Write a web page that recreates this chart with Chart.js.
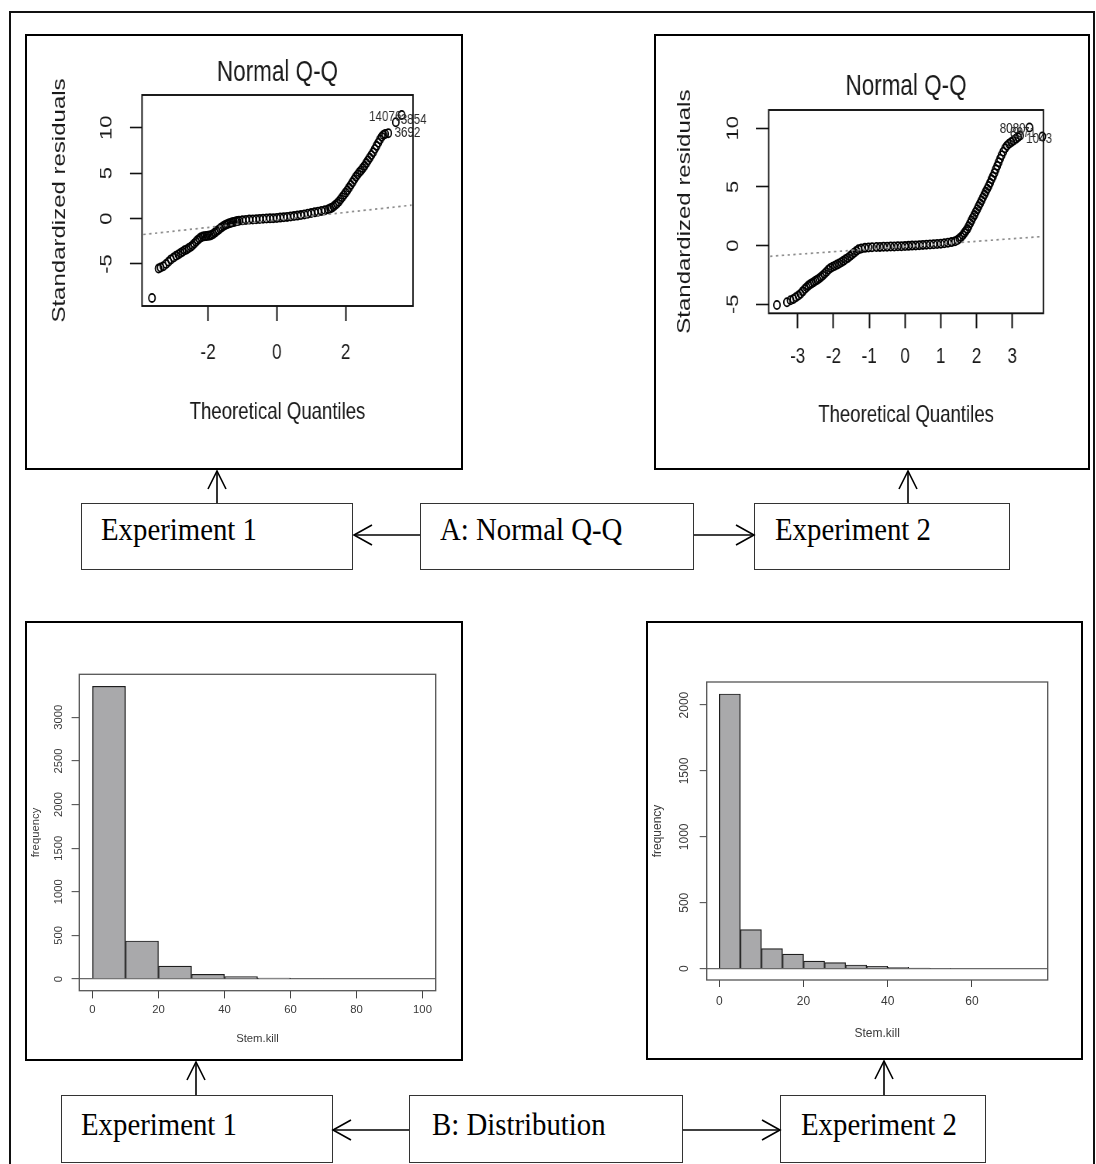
<!DOCTYPE html>
<html>
<head>
<meta charset="utf-8">
<script src="https://cdn.jsdelivr.net/npm/chart.js@4.4.1/dist/chart.umd.min.js"></script>
<style>
html,body{margin:0;padding:0;background:#fff;}
body{width:1096px;height:1164px;position:relative;overflow:hidden;}
.frame{position:absolute;left:9px;top:11px;width:1086px;height:1200px;border:2px solid #111;border-bottom:none;box-sizing:border-box;}
.panel{position:absolute;border:2px solid #000;box-sizing:border-box;background:#fff;overflow:hidden;}
.panel canvas{position:absolute;left:0;top:0;}
.squish{transform:scaleX(0.775);transform-origin:0 0;}
.box{position:absolute;border:1px solid #333;box-sizing:border-box;background:#fff;}
.lbl{position:absolute;font-family:'Liberation Serif','Times New Roman',serif;font-size:32px;line-height:32px;color:#000;white-space:nowrap;transform:scaleX(0.9);transform-origin:0 0;}
svg.arrows{position:absolute;left:0;top:0;}
</style>
</head>
<body>
<div class="frame"></div>

<div class="panel" style="left:25px;top:34px;width:438px;height:436px;"><canvas id="qq1" class="squish" width="560" height="432"></canvas></div>
<div class="panel" style="left:654px;top:34px;width:436px;height:436px;"><canvas id="qq2" class="squish" width="557" height="432"></canvas></div>
<div class="panel" style="left:25px;top:621px;width:438px;height:440px;"><canvas id="h1" width="434" height="436"></canvas></div>
<div class="panel" style="left:646px;top:621px;width:437px;height:439px;"><canvas id="h2" width="433" height="435"></canvas></div>

<div class="box" style="left:81px;top:503px;width:272px;height:67px;"></div>
<div class="box" style="left:420px;top:503px;width:274px;height:67px;"></div>
<div class="box" style="left:754px;top:503px;width:256px;height:67px;"></div>
<div class="box" style="left:61px;top:1095px;width:272px;height:68px;"></div>
<div class="box" style="left:409px;top:1095px;width:274px;height:68px;"></div>
<div class="box" style="left:780px;top:1095px;width:206px;height:68px;"></div>

<div class="lbl" style="left:101px;top:513px;">Experiment 1</div>
<div class="lbl" style="left:440px;top:513px;">A: Normal Q-Q</div>
<div class="lbl" style="left:775px;top:513px;">Experiment 2</div>
<div class="lbl" style="left:81px;top:1108px;">Experiment 1</div>
<div class="lbl" style="left:432px;top:1108px;">B: Distribution</div>
<div class="lbl" style="left:801px;top:1108px;">Experiment 2</div>

<svg class="arrows" width="1096" height="1164" viewBox="0 0 1096 1164">
 <g stroke="#000" stroke-width="1.6" fill="none">
  <line x1="217" y1="503" x2="217" y2="471"/><polyline points="208,489 217,471 226,489"/>
  <line x1="908" y1="503" x2="908" y2="471"/><polyline points="899,489 908,471 917,489"/>
  <line x1="420" y1="535" x2="354" y2="535"/><polyline points="372,525 354,535 372,545"/>
  <line x1="694" y1="535" x2="754" y2="535"/><polyline points="736,525 754,535 736,545"/>
  <line x1="196" y1="1095" x2="196" y2="1062"/><polyline points="187,1080 196,1062 205,1080"/>
  <line x1="884" y1="1095" x2="884" y2="1061"/><polyline points="875,1079 884,1061 893,1079"/>
  <line x1="409" y1="1130" x2="333" y2="1130"/><polyline points="351,1120 333,1130 351,1140"/>
  <line x1="683" y1="1130" x2="780" y2="1130"/><polyline points="762,1120 780,1130 762,1140"/>
 </g>
</svg>

<script>
// ================= DATA =================
// Experiment 1 - Normal Q-Q (theoretical quantile, standardized residual)
const qq1X = [-3.63,-3.44,-3.38,-3.30,-3.22,-3.15,-3.08,-3.00,-2.93,-2.86,-2.80,-2.74,-2.68,-2.62,-2.56,-2.50,-2.45,-2.40,-2.35,-2.30,-2.25,-2.20,-2.15,-2.10,-2.05,-2.00,-1.95,-1.90,-1.85,-1.80,-1.75,-1.70,-1.65,-1.60,-1.55,-1.50,-1.45,-1.40,-1.35,-1.30,-1.25,-1.20,-1.15,-1.10,-1.00,-0.90,-0.80,-0.70,-0.60,-0.50,-0.40,-0.30,-0.20,-0.10,0.00,0.10,0.20,0.30,0.40,0.50,0.60,0.70,0.80,0.90,1.00,1.10,1.20,1.30,1.40,1.50,1.55,1.60,1.65,1.70,1.75,1.80,1.85,1.90,1.95,2.00,2.05,2.10,2.15,2.20,2.25,2.30,2.35,2.40,2.45,2.50,2.55,2.60,2.65,2.70,2.75,2.80,2.85,2.90,2.95,3.00,3.05,3.10,3.15,3.24,3.46,3.63];
const qq1Y = [-8.74,-5.51,-5.40,-5.25,-5.00,-4.75,-4.50,-4.30,-4.10,-3.95,-3.80,-3.65,-3.50,-3.40,-3.25,-3.10,-2.95,-2.75,-2.55,-2.35,-2.20,-2.05,-1.98,-1.95,-1.93,-1.90,-1.88,-1.82,-1.70,-1.55,-1.40,-1.25,-1.10,-0.95,-0.82,-0.72,-0.62,-0.55,-0.48,-0.42,-0.37,-0.32,-0.28,-0.24,-0.20,-0.16,-0.12,-0.10,-0.07,-0.04,-0.02,0.00,0.02,0.04,0.06,0.10,0.14,0.18,0.22,0.27,0.32,0.38,0.45,0.52,0.60,0.68,0.76,0.84,0.92,1.02,1.10,1.20,1.32,1.48,1.65,1.85,2.10,2.35,2.60,2.85,3.10,3.40,3.70,4.00,4.30,4.60,4.85,5.10,5.30,5.55,5.80,6.10,6.40,6.70,7.00,7.30,7.65,8.00,8.35,8.70,9.00,9.20,9.30,9.40,10.60,11.39];
const qq1LineX = [-3.88, 3.92];
const qq1LineY = [-1.76, 1.47];
const qq1XTicks = [-2, 0, 2];
const qq1YTicks = [-5, 0, 5, 10];
const qq1XRange = [-3.92, 3.96];
const qq1YRange = [-9.63, 13.6];
const qq1IdText = ['14076', '3854', '3692'];
const qq1IdX = [3.15, 3.98, 3.80];
const qq1IdY = [11.17, 10.84, 9.40];

// Experiment 2 - Normal Q-Q
const qq2X = [-3.58,-3.30,-3.20,-3.12,-3.05,-2.98,-2.92,-2.86,-2.80,-2.75,-2.70,-2.65,-2.60,-2.55,-2.50,-2.45,-2.40,-2.35,-2.30,-2.25,-2.20,-2.14,-2.08,-2.02,-1.96,-1.90,-1.84,-1.78,-1.72,-1.66,-1.60,-1.54,-1.48,-1.42,-1.36,-1.30,-1.22,-1.12,-1.02,-0.92,-0.80,-0.70,-0.60,-0.50,-0.40,-0.30,-0.20,-0.10,0.00,0.10,0.20,0.30,0.40,0.50,0.60,0.70,0.80,0.90,1.00,1.10,1.20,1.30,1.40,1.47,1.52,1.57,1.62,1.66,1.70,1.74,1.78,1.82,1.86,1.90,1.94,1.98,2.02,2.06,2.10,2.14,2.18,2.22,2.26,2.30,2.34,2.38,2.42,2.46,2.50,2.54,2.58,2.62,2.66,2.70,2.75,2.80,2.85,2.91,2.97,3.03,3.10,3.16,3.22,3.48,3.84];
const qq2Y = [-5.06,-4.83,-4.65,-4.55,-4.40,-4.26,-4.10,-3.90,-3.70,-3.55,-3.41,-3.30,-3.20,-3.10,-3.00,-2.90,-2.80,-2.68,-2.55,-2.40,-2.25,-2.05,-1.90,-1.80,-1.72,-1.62,-1.52,-1.42,-1.30,-1.17,-1.05,-0.90,-0.75,-0.60,-0.45,-0.32,-0.24,-0.19,-0.16,-0.14,-0.12,-0.11,-0.10,-0.09,-0.08,-0.07,-0.06,-0.05,-0.04,-0.02,0.00,0.02,0.04,0.06,0.08,0.10,0.12,0.14,0.16,0.20,0.24,0.30,0.38,0.48,0.60,0.74,0.90,1.08,1.25,1.42,1.65,1.90,2.15,2.40,2.62,2.86,3.10,3.35,3.60,3.85,4.10,4.35,4.60,4.85,5.08,5.35,5.65,5.90,6.20,6.50,6.80,7.10,7.40,7.70,8.00,8.30,8.52,8.68,8.82,8.95,9.10,9.25,9.38,10.07,9.30];
const qq2LineX = [-3.77, 3.82];
const qq2LineY = [-0.91, 0.77];
const qq2XTicks = [-3, -2, -1, 0, 1, 2, 3];
const qq2YTicks = [-5, 0, 5, 10];
const qq2XRange = [-3.81, 3.87];
const qq2YRange = [-5.77, 11.56];
const qq2IdText = ['8080', '8971', '1043'];
const qq2IdX = [3.01, 3.30, 3.75];
const qq2IdY = [9.97, 9.60, 9.12];

// Experiment 1 - histogram of Stem.kill (bin centres, counts)
const h1Bins = [5, 15, 25, 35, 45, 55, 65, 75, 85, 95];
const h1Counts = [3355, 436, 149, 54, 27, 12, 8, 0, 0, 0];
const h1XTicks = [0, 20, 40, 60, 80, 100];
const h1YTicks = [0, 500, 1000, 1500, 2000, 2500, 3000];
const h1XRange = [-4, 104];
const h1YRange = [-134, 3493];

// Experiment 2 - histogram of Stem.kill
const h2Bins = [2.5, 7.5, 12.5, 17.5, 22.5, 27.5, 32.5, 37.5, 42.5, 47.5, 52.5, 57.5, 62.5, 67.5, 72.5];
const h2Counts = [2084, 296, 152, 111, 58, 46, 28, 18, 10, 5, 4, 0, 0, 0, 0];
const h2XTicks = [0, 20, 40, 60];
const h2YTicks = [0, 500, 1000, 1500, 2000];
const h2XRange = [-3, 78];
const h2YRange = [-86, 2175];

// ================= RENDERING =================
const REG = "'Liberation Sans',Arial,Helvetica,sans-serif";
const SQ = 0.775; // horizontal squish of the Q-Q panels (applied with CSS)
Chart.defaults.font.family = REG;
Chart.defaults.animation = false;

function framePlugin(color, width) {
  return {
    id: 'frameBox',
    afterDraw(chart) {
      const { ctx, chartArea: a } = chart;
      ctx.save();
      ctx.strokeStyle = color;
      ctx.lineWidth = width;
      ctx.strokeRect(a.left, a.top, a.right - a.left, a.bottom - a.top);
      ctx.restore();
    }
  };
}
function idPlugin(texts, xs, ys, font) {
  return {
    id: 'idLabels',
    afterDatasetsDraw(chart) {
      const { ctx, scales } = chart;
      ctx.save();
      ctx.font = font;
      ctx.fillStyle = '#2a2a2a';
      ctx.textAlign = 'center';
      ctx.textBaseline = 'middle';
      texts.forEach((t, i) => ctx.fillText(t, scales.x.getPixelForValue(xs[i]), scales.y.getPixelForValue(ys[i])));
      ctx.restore();
    }
  };
}
const pts = (xs, ys) => xs.map((x, i) => ({ x: x, y: ys[i] }));

// g: geometry in displayed (css) pixels; horizontal values converted for the squished canvas
function qqChart(id, d, g) {
  const h = v => v / SQ;
  return new Chart(document.getElementById(id), {
    type: 'scatter',
    data: {
      datasets: [
        { data: pts(d.lineX, d.lineY), showLine: true, borderColor: '#8c8c8c', borderWidth: 1.7,
          borderDash: [3, 4.5], pointRadius: 0, fill: false },
        { data: pts(d.x, d.y), showLine: false, pointStyle: 'circle', pointRadius: 4.1,
          pointBorderWidth: 1.8, pointBorderColor: '#000', pointBackgroundColor: 'rgba(0,0,0,0)', clip: false }
      ]
    },
    options: {
      responsive: false, animation: false, events: [],
      layout: { padding: { left: 0, right: h(g.padR), top: 0, bottom: 0 } },
      plugins: { legend: { display: false }, tooltip: { enabled: false } },
      scales: {
        x: {
          type: 'linear', position: 'bottom', min: d.xr[0], max: d.xr[1],
          afterBuildTicks: s => { s.ticks = d.xt.map(v => ({ value: v })); },
          afterFit: s => { s.height = g.xH; },
          grid: { drawOnChartArea: false, drawTicks: true, tickLength: g.xTL, tickColor: '#111', tickWidth: 2 },
          border: { display: false },
          ticks: { font: { family: REG, size: 22 }, color: '#1a1a1a', padding: g.xTP, maxRotation: 0, minRotation: 0, autoSkip: false, callback: v => String(v) },
          title: { display: true, text: 'Theoretical Quantiles', font: { family: REG, size: 24 }, color: '#1a1a1a', padding: { top: 0, bottom: g.xTitleP } }
        },
        xt: {
          type: 'linear', position: 'top', min: d.xr[0], max: d.xr[1],
          afterFit: s => { s.height = g.top; },
          grid: { display: false }, border: { display: false }, ticks: { display: false },
          title: { display: true, text: 'Normal Q-Q', font: { family: REG, size: 29 }, color: '#1a1a1a', padding: { top: g.titleP, bottom: 0 } }
        },
        y: {
          type: 'linear', position: 'left', min: d.yr[0], max: d.yr[1],
          afterBuildTicks: s => { s.ticks = d.yt.map(v => ({ value: v })); },
          afterFit: s => { s.width = h(g.yW); },
          grid: { drawOnChartArea: false, drawTicks: true, tickLength: h(g.yTL), tickColor: '#111', tickWidth: 1.6 },
          border: { display: false },
          ticks: { font: { family: REG, size: 22 }, color: '#1a1a1a', padding: g.yTP, minRotation: 90, maxRotation: 90, crossAlign: 'center', autoSkip: false, callback: v => String(v) },
          title: { display: true, text: 'Standardized residuals', font: { family: REG, size: 24 }, color: '#1a1a1a', padding: { top: g.yTitleP, bottom: 0 } }
        }
      }
    },
    plugins: [framePlugin('#111', 1.9), idPlugin(d.idT, d.idX, d.idY, '15px ' + REG)]
  });
}

function histChart(id, d, g) {
  return new Chart(document.getElementById(id), {
    type: 'bar',
    data: {
      datasets: [{
        data: pts(d.bins, d.counts), backgroundColor: '#a9a9ab', borderColor: '#1e1e1e', borderWidth: 1.2,
        barPercentage: 1, categoryPercentage: 1, grouped: false
      }]
    },
    options: {
      responsive: false, animation: false, events: [],
      layout: { padding: { left: 0, right: g.padR, top: g.padT, bottom: 0 } },
      plugins: { legend: { display: false }, tooltip: { enabled: false } },
      scales: {
        x: {
          type: 'linear', position: 'bottom', min: d.xr[0], max: d.xr[1], offset: false,
          afterBuildTicks: s => { s.ticks = d.xt.map(v => ({ value: v })); },
          afterFit: s => { s.height = g.xH; },
          grid: { offset: false, drawOnChartArea: false, drawTicks: true, tickLength: g.tl, tickColor: '#444', tickWidth: 1 },
          border: { display: false },
          ticks: { font: { family: REG, size: g.fs }, color: '#3a3a3a', padding: g.xTP, maxRotation: 0, minRotation: 0, autoSkip: false, callback: v => String(v) },
          title: { display: true, text: 'Stem.kill', font: { family: REG, size: g.fs }, color: '#3a3a3a', padding: { top: 0, bottom: g.xTitleP } }
        },
        y: {
          type: 'linear', position: 'left', min: d.yr[0], max: d.yr[1],
          afterBuildTicks: s => { s.ticks = d.yt.map(v => ({ value: v })); },
          afterFit: s => { s.width = g.yW; },
          grid: { drawOnChartArea: true, color: c => (c.tick && c.tick.value === 0) ? '#6a6a6a' : 'rgba(0,0,0,0)', lineWidth: 1.3,
                  drawTicks: true, tickLength: g.tl, tickColor: '#444', tickWidth: 1 },
          border: { display: false },
          ticks: { font: { family: REG, size: g.fs }, color: '#3a3a3a', padding: g.yTP, minRotation: 90, maxRotation: 90, crossAlign: 'center', autoSkip: false, callback: v => String(v) },
          title: { display: true, text: 'frequency', font: { family: REG, size: g.fs }, color: '#3a3a3a', padding: { top: g.yTitleP, bottom: 0 } }
        }
      }
    },
    plugins: [framePlugin('#555', 1.3)]
  });
}

qqChart('qq1',
  { x: qq1X, y: qq1Y, lineX: qq1LineX, lineY: qq1LineY, xt: qq1XTicks, yt: qq1YTicks, xr: qq1XRange, yr: qq1YRange, idT: qq1IdText, idX: qq1IdX, idY: qq1IdY },
  { padR: 48, xH: 162, xTL: 15, xTP: 18.5, xTitleP: 41.4, top: 59, titleP: 19.6, yW: 115, yTL: 12, yTP: 17.5, yTitleP: 28 });

qqChart('qq2',
  { x: qq2X, y: qq2Y, lineX: qq2LineX, lineY: qq2LineY, xt: qq2XTicks, yt: qq2YTicks, xr: qq2XRange, yr: qq2YRange, idT: qq2IdText, idX: qq2IdX, idY: qq2IdY },
  { padR: 44.3, xH: 154.7, xTL: 15, xTP: 15.2, xTitleP: 38.4, top: 74, titleP: 33.3, yW: 112.7, yTL: 12.7, yTP: 16.5, yTitleP: 23.2 });

histChart('h1',
  { bins: h1Bins, counts: h1Counts, xt: h1XTicks, yt: h1YTicks, xr: h1XRange, yr: h1YRange },
  { padR: 25.3, padT: 51.3, xH: 68.3, tl: 7.7, xTP: 4.8, xTitleP: 13.4, yW: 52.3, yTP: 0, yTitleP: 2.4, fs: 11.3 });

histChart('h2',
  { bins: h2Bins, counts: h2Counts, xt: h2XTicks, yt: h2YTicks, xr: h2XRange, yr: h2YRange },
  { padR: 33.3, padT: 59, xH: 78, tl: 7, xTP: 7.5, xTitleP: 16.8, yW: 58.7, yTP: 1.4, yTitleP: 2.8, fs: 12 });
</script>
</body>
</html>
